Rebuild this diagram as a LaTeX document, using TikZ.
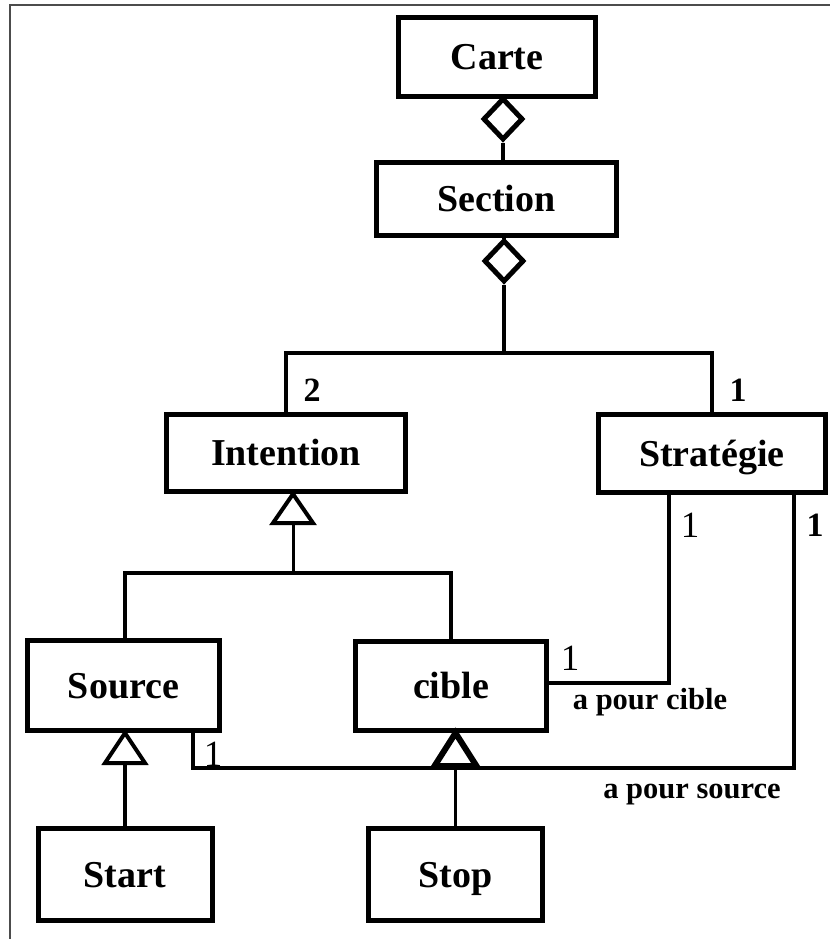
\documentclass[tikz,border=0pt]{standalone}
\usepackage{fontspec}
\setmainfont{Liberation Serif}
\usetikzlibrary{shapes.geometric,calc}
\begin{document}
\begin{tikzpicture}[x=1pt,y=-1pt,
  box/.style={draw, line width=5pt, inner sep=0pt, text height=25pt, text depth=0pt, font=\fontsize{38}{42}\selectfont\bfseries},
  agg/.style={diamond, draw, line width=5pt, inner sep=0pt, minimum width=40pt, minimum height=42pt, aspect=1},
  conn/.style={line width=4.5pt},
  thinconn/.style={line width=3pt},
  tri/.style={line width=4pt, line join=miter, fill=white},
  mult/.style={font=\fontsize{34}{38}\selectfont\bfseries, inner sep=0pt},
  multr/.style={font=\fontsize{37}{40}\selectfont, inner sep=0pt},
  lab/.style={font=\fontsize{30.5}{33}\selectfont\bfseries, inner sep=0pt},
  frameline/.style={line width=1.8pt, draw=black!70}
]
\useasboundingbox (0,0) rectangle (830,939);
\draw[frameline] (10,939) -- (10,5) -- (830,5);

% classes
\node[box, minimum width=197pt, minimum height=79pt] (carte) at (497,57) {Carte};
\node[box, minimum width=240pt, minimum height=73pt] (sec) at (496.5,199) {Section};
\node[box, minimum width=239pt, minimum height=77pt] (intention) at (286,453) {Intention};
\node[box, minimum width=227pt, minimum height=78pt] (strat) at (712,453.5) {Stratégie};
\node[box, minimum width=192pt, minimum height=90pt] (source) at (123.5,685.5) {Source};
\node[box, minimum width=191pt, minimum height=89pt] (cible) at (451,686) {cible};
\node[box, minimum width=174pt, minimum height=92pt] (start) at (125,874.5) {Start};
\node[box, minimum width=174pt, minimum height=92pt] (stop) at (455.5,874.5) {Stop};

% aggregation diamonds
\node[agg] (ag1) at (503,119) {};
\node[agg] (ag2) at (504,261) {};
\draw[conn] (carte.south -| ag1) -- (ag1.north);
\draw[conn] (ag1.south) -- (sec.north -| ag1);
\draw[conn] (sec.south -| ag2) -- (ag2.north);

\coordinate (br1) at (504,353);
\draw[conn] (ag2.south) -- (br1);
\draw[conn] (intention.north) -- (intention.north |- br1) -- (strat.north |- br1) -- (strat.north);

% generalization Intention
\coordinate (x293) at (293,0);
\coordinate (t1) at (intention.south -| x293);
\coordinate (t1b) at ($(t1)+(0,29)$);
\coordinate (h1) at (0,573);
\draw[thinconn] (t1b) -- (t1b |- h1);
\draw[conn] (source.north -| start.north) -- (start.north |- h1) -- (cible.north |- h1) -- (cible.north);
\draw[tri] (t1) -- ++(20,29) -- ++(-40,0) -- cycle;

% associations
\coordinate (sp) at (193,768);
\coordinate (sr) at (794,768);
\draw[conn] (source.south -| sp) -- (sp) -- (sr) -- (strat.south -| sr);
\coordinate (cp) at (669,683);
\draw[conn] (cible.east |- cp) -- (cp) -- (strat.south -| cp);

% generalization Source
\coordinate (t2) at (source.south -| start.north);
\coordinate (t2b) at ($(t2)+(0,30)$);
\draw[conn] (t2b) -- (start.north);
\draw[tri] (t2) -- ++(20,30) -- ++(-40,0) -- cycle;

% generalization cible
\coordinate (t3) at (cible.south -| stop.north);
\coordinate (t3b) at ($(t3)+(0,33)$);
\draw[thinconn] (t3b) -- (stop.north);
\draw[tri, line width=6pt] (t3) -- ++(21,33) -- ++(-42,0) -- cycle;

% multiplicities
\node[mult] (m2) at (312,390) {2};
\node[mult] (m1a) at (738,390) {1};
\node[multr] (m1b) at (690,525) {1};
\node[mult] (m1c) at (815,525) {1};
\node[multr] (m1d) at (570,658) {1};
\node[multr] (m1e) at (213,754) {1};

% role labels
\node[lab] (lc) at (650,702) {a pour cible};
\node[lab] (ls) at (692,795) {a pour source};
\end{tikzpicture}
\end{document}
